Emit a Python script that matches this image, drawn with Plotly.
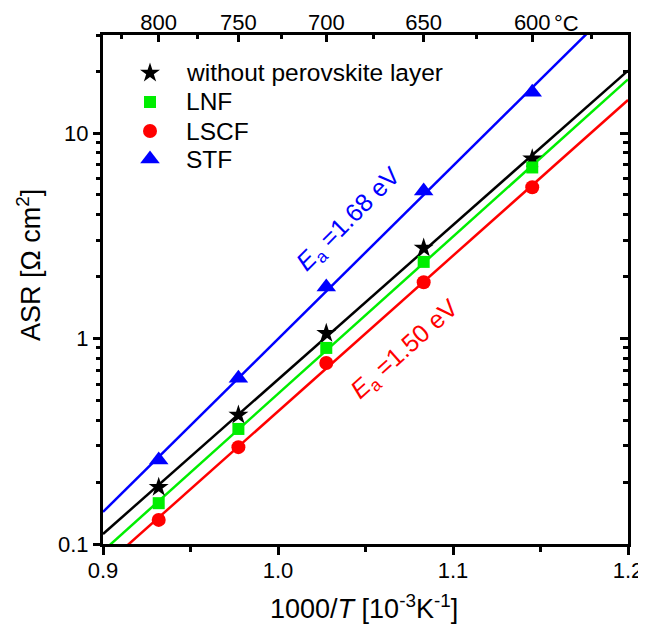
import numpy as np
import plotly.graph_objects as go

# ---- data ----
temps_C = [800, 750, 700, 650, 600]
top_tick_text = ["800", "750", "700", "650", "600"]
top_minor_C = [825, 775, 725, 675, 625, 575]
asr_none = [0.189, 0.424, 1.06, 2.76, 7.5]
asr_lnf = [0.158, 0.363, 0.90, 2.36, 6.8]
asr_lscf = [0.131, 0.296, 0.76, 1.88, 5.45]
asr_stf = [0.256, 0.64, 1.78, 5.22, 15.8]
x_ticks = [0.9, 1.0, 1.1, 1.2]
x_ticktext = ["0.9", "1.0", "1.1", "1.2"]
x_minor = [0.95, 1.05, 1.15]
y_ticks = [0.1, 1, 10]
y_ticktext = ["0.1", "1", "10"]
y_minor = [0.2, 0.3, 0.4, 0.5, 0.6, 0.7, 0.8, 0.9, 2, 3, 4, 5, 6, 7, 8, 9, 20, 30]

inv_T = [1000.0 / (t + 273.15) for t in temps_C]
inv_T_minor = [1000.0 / (t + 273.15) for t in top_minor_C]

FONT = "Arial, Liberation Sans, sans-serif"

series = [
    ("without perovskite layer", asr_none, "#000000", "star", 15),
    ("LNF", asr_lnf, "#00EE00", "square", 12),
    ("LSCF", asr_lscf, "#FF0000", "circle", 14),
    ("STF", asr_stf, "#0000FF", "triangle-up", 17),
]

# plot area in page pixels (page has an 8px body margin)
PX_L, PX_R, PX_T, PX_B = 103, 628, 35, 544
W, H = 638, 622


def px2paper_x(px):
    return (px - PX_L) / (PX_R - PX_L)


def px2paper_y(py):
    return (PX_B - py) / (PX_B - PX_T)


fig = go.Figure()
xfit = np.array([0.9, 1.2])
for name, vals, color, sym, size in series:
    coef = np.polyfit(inv_T, np.log10(vals), 1)
    yfit = 10 ** np.polyval(coef, xfit)
    fig.add_trace(go.Scatter(x=xfit, y=yfit, mode="lines",
                             line=dict(color=color, width=2.5),
                             showlegend=False, hoverinfo="skip"))
for name, vals, color, sym, size in series:
    fig.add_trace(go.Scatter(x=inv_T, y=vals, mode="markers", name=name,
                             showlegend=False,
                             marker=dict(symbol=sym, size=size, color=color,
                                         line=dict(width=0))))

# invisible trace for secondary axes
fig.add_trace(go.Scatter(x=[1.0], y=[1.0], xaxis="x2", yaxis="y2",
                         mode="markers", marker=dict(opacity=0),
                         showlegend=False, hoverinfo="skip"))

# hand-placed legend (markers on a hidden 0..1 overlay axis, labels as text)
legend_rows_px = [73, 102, 131, 159]
for (name, vals, color, sym, size), ry in zip(series, legend_rows_px):
    fig.add_trace(go.Scatter(x=[px2paper_x(150)], y=[px2paper_y(ry)],
                             xaxis="x3", yaxis="y3", mode="markers",
                             marker=dict(symbol=sym, size=size, color=color,
                                         line=dict(width=0)),
                             showlegend=False, hoverinfo="skip"))
    fig.add_annotation(text=name, x=px2paper_x(184), y=px2paper_y(ry),
                       xref="paper", yref="paper", xanchor="left",
                       yanchor="middle", showarrow=False,
                       font=dict(size=24.5, color="black", family=FONT))

ylog_range = [-1, np.log10(30)]
axis_common = dict(showline=True, linewidth=3, linecolor="black",
                   showgrid=False, zeroline=False, tickcolor="black",
                   tickwidth=2.5, automargin=False,
                   tickfont=dict(size=22, color="black", family=FONT))

fig.update_layout(
    width=W, height=H,
    margin=dict(l=PX_L - 8, r=W - (PX_R - 8), t=PX_T - 8, b=H - (PX_B - 8)),
    plot_bgcolor="white", paper_bgcolor="white",
    font=dict(family=FONT, color="black"),
    showlegend=False,
    xaxis=dict(range=[0.9, 1.2], tickmode="array", tickvals=x_ticks,
               ticktext=x_ticktext, ticks="outside", ticklen=8,
               ticklabelstandoff=-3,
               minor=dict(tickmode="array", tickvals=x_minor, ticks="outside",
                          ticklen=5, tickwidth=2.5, tickcolor="black"),
               **axis_common),
    xaxis2=dict(range=[0.9, 1.2], overlaying="x", side="top",
                tickmode="array", tickvals=inv_T, ticktext=top_tick_text,
                ticks="inside", ticklen=7, ticklabelstandoff=-7,
                minor=dict(tickmode="array", tickvals=inv_T_minor, ticks="inside",
                           ticklen=4, tickwidth=2.5, tickcolor="black"),
                **axis_common),
    xaxis3=dict(range=[0, 1], overlaying="x", visible=False),
    yaxis=dict(type="log", range=ylog_range, tickmode="array", tickvals=y_ticks,
               ticktext=y_ticktext, ticks="outside", ticklen=7,
               minor=dict(tickmode="array", tickvals=y_minor, ticks="outside",
                          ticklen=4, tickwidth=2.5, tickcolor="black"),
               **axis_common),
    yaxis2=dict(type="log", range=ylog_range, overlaying="y", side="right",
                tickmode="array", tickvals=y_ticks, showticklabels=False,
                ticks="inside", ticklen=8,
                minor=dict(tickmode="array", tickvals=y_minor, ticks="inside",
                           ticklen=5, tickwidth=2.5, tickcolor="black"),
                **axis_common),
    yaxis3=dict(range=[0, 1], overlaying="y", visible=False),
)

fig.add_annotation(text="<i>E</i><sub>a</sub> =1.68 eV", x=1.0406, y=0.577,
                   xref="x", yref="y", showarrow=False, textangle=-45,
                   xanchor="center", yanchor="middle",
                   font=dict(size=25, color="#0000FF", family=FONT))
fig.add_annotation(text="<i>E</i><sub>a</sub> =1.50 eV", x=1.0726, y=-0.056,
                   xref="x", yref="y", showarrow=False, textangle=-42,
                   xanchor="center", yanchor="middle",
                   font=dict(size=25, color="#FF0000", family=FONT))
fig.add_annotation(text="°C", x=px2paper_x(566), y=px2paper_y(23),
                   xref="paper", yref="paper", showarrow=False,
                   xanchor="center", yanchor="middle",
                   font=dict(size=22, color="black", family=FONT))
fig.add_annotation(text="ASR [Ω cm<sup>2</sup>]", x=px2paper_x(29),
                   y=px2paper_y(265), xref="paper", yref="paper",
                   showarrow=False, textangle=-90,
                   xanchor="center", yanchor="middle",
                   font=dict(size=27, color="black", family=FONT))
fig.add_annotation(text="1000/<i>T</i> [10<sup>-3</sup>K<sup>-1</sup>]",
                   x=px2paper_x(364), y=px2paper_y(607),
                   xref="paper", yref="paper", showarrow=False,
                   xanchor="center", yanchor="middle",
                   font=dict(size=27, color="black", family=FONT))

fig.write_html("out.html")
